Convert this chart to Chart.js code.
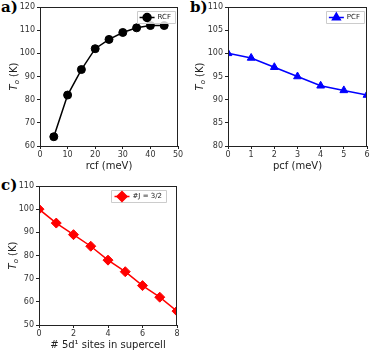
<!DOCTYPE html>
<html>
<head>
<meta charset="utf-8">
<script src="https://cdn.jsdelivr.net/npm/chart.js@4.4.0/dist/chart.umd.min.js"></script>
<style>
  body { margin: 0; background: #fff; width: 377px; height: 351px; position: relative; overflow: hidden; }
  canvas { position: absolute; }
  .tag { position: absolute; font: bold 15px "DejaVu Serif", serif; color: #000; }
</style>
</head>
<body>
<div class="tag" style="left:1px;top:-2px">a)</div>
<div class="tag" style="left:190px;top:-2px">b)</div>
<div class="tag" style="left:1px;top:176px">c)</div>
<canvas id="chartA" style="left:0;top:0" width="188" height="175"></canvas>
<canvas id="chartB" style="left:185px;top:0" width="192" height="175"></canvas>
<canvas id="chartC" style="left:0;top:170px" width="188" height="181"></canvas>
<script>
const rcf = [5, 10, 15, 20, 25, 30, 35, 40, 45];
const rcfT = [64, 82, 93, 102, 106, 109, 111, 112, 112];
const pcf = [0, 1, 2, 3, 4, 5, 6];
const pcfT = [100, 99, 97, 95, 93, 92, 91];
const sites = [0, 1, 2, 3, 4, 5, 6, 7, 8];
const sitesT = [100, 94, 89, 84, 78, 73, 67, 62, 56];

const tickFont = { family: "DejaVu Sans", size: 8 };
const tickColor = "#333";

// frame round the plot area, y label with italic T, and boxed legend
const mplPlugin = {
  id: "mpl",
  afterDraw(chart) {
    const ctx = chart.ctx;
    const a = chart.chartArea;
    const o = chart.options.plugins.mpl;
    ctx.save();
    ctx.strokeStyle = "#222";
    ctx.lineWidth = 1;
    ctx.strokeRect(Math.round(a.left) + 0.5, Math.round(a.top) + 0.5,
      Math.round(a.right - a.left) - 1, Math.round(a.bottom - a.top));

    // y label
    const cy = (a.top + a.bottom) / 2;
    ctx.translate(o.yLabelX, cy);
    ctx.rotate(-Math.PI / 2);
    ctx.fillStyle = "#222";
    ctx.textBaseline = "alphabetic";
    ctx.font = "italic 10px 'DejaVu Sans'";
    const wT = ctx.measureText("T").width;
    ctx.font = "italic 7px 'DejaVu Sans'";
    const wo = ctx.measureText("o").width;
    ctx.font = "10px 'DejaVu Sans'";
    const wK = ctx.measureText(" (K)").width;
    let x = -(wT + wo + wK) / 2;
    ctx.font = "italic 10px 'DejaVu Sans'";
    ctx.fillText("T", x, 4); x += wT;
    ctx.font = "italic 7px 'DejaVu Sans'";
    ctx.fillText("o", x, 6); x += wo;
    ctx.font = "10px 'DejaVu Sans'";
    ctx.fillText(" (K)", x, 4);
    ctx.restore();

    // legend
    const ds = chart.data.datasets[0];
    ctx.save();
    ctx.font = "7px 'DejaVu Sans'";
    const tw = ctx.measureText(ds.label).width;
    const lineLen = 15;
    const bw = 3 + lineLen + 3 + tw + 4;
    const bh = 12;
    const bx = a.right - o.legendGap - bw;
    const by = a.top + 4;
    ctx.fillStyle = "rgba(255,255,255,0.8)";
    ctx.strokeStyle = "#ccc";
    ctx.lineWidth = 1;
    ctx.beginPath();
    ctx.rect(Math.round(bx) + 0.5, Math.round(by) + 0.5, Math.round(bw), bh);
    ctx.fill();
    ctx.stroke();
    const ly = by + bh / 2 + 0.5;
    ctx.strokeStyle = ds.borderColor;
    ctx.lineWidth = ds.borderWidth;
    ctx.beginPath();
    ctx.moveTo(bx + 3, ly);
    ctx.lineTo(bx + 3 + lineLen, ly);
    ctx.stroke();
    ctx.fillStyle = ds.backgroundColor;
    Chart.helpers.drawPoint(ctx, {
      pointStyle: ds.pointStyle, radius: ds.pointRadius, rotation: 0, borderWidth: 1
    }, bx + 3 + lineLen / 2, ly);
    ctx.fillStyle = "#222";
    ctx.textBaseline = "middle";
    ctx.fillText(ds.label, bx + 3 + lineLen + 3, ly);
    ctx.restore();
  }
};

function makeChart(id, xs, ys, opts) {
  return new Chart(document.getElementById(id), {
    type: "line",
    data: {
      labels: xs,
      datasets: [{
        label: opts.label,
        data: xs.map((x, i) => ({ x: x, y: ys[i] })),
        borderColor: opts.color,
        backgroundColor: opts.color,
        borderWidth: 1.5,
        pointStyle: opts.marker,
        pointRadius: opts.radius,
        pointBorderWidth: 1,
        tension: 0
      }]
    },
    options: {
      responsive: false,
      animation: false,
      layout: { padding: opts.padding },
      plugins: {
        legend: { display: false },
        tooltip: { enabled: false },
        mpl: { yLabelX: opts.yLabelX, legendGap: opts.legendGap }
      },
      scales: {
        x: {
          type: "linear",
          min: opts.xMin, max: opts.xMax,
          afterFit: s => { s.height = opts.xH; },
          ticks: { stepSize: opts.xStep, font: tickFont, color: tickColor, padding: 1, maxRotation: 0 },
          grid: { drawOnChartArea: false, tickLength: 3, color: "#222" },
          border: { color: "#222" },
          title: { display: true, text: opts.xTitle, color: "#222",
            font: { family: "DejaVu Sans", size: 10 }, padding: { top: 1, bottom: 0 } }
        },
        y: {
          min: opts.yMin, max: opts.yMax,
          afterFit: s => { s.width = opts.yW; },
          ticks: { stepSize: opts.yStep, font: tickFont, color: tickColor, padding: 2 },
          grid: { drawOnChartArea: false, tickLength: 3, color: "#222" },
          border: { color: "#222" }
        }
      }
    },
    plugins: [mplPlugin]
  });
}

makeChart("chartA", rcf, rcfT, {
  label: "RCF", color: "#000", marker: "circle", radius: 4,
  xMin: 0, xMax: 50, xStep: 10, yMin: 60, yMax: 120, yStep: 10,
  xTitle: "rcf (meV)", padding: { left: 0, right: 10, top: 7, bottom: 3 },
  xH: 26, yW: 40, yLabelX: 13, legendGap: 3
});
makeChart("chartB", pcf, pcfT, {
  label: "PCF", color: "#0000ff", marker: "triangle", radius: 4.5,
  xMin: 0, xMax: 6, xStep: 1, yMin: 80, yMax: 110, yStep: 5,
  xTitle: "pcf (meV)", padding: { left: 0, right: 10, top: 7, bottom: 3 },
  xH: 26, yW: 43, yLabelX: 14, legendGap: 3
});
makeChart("chartC", sites, sitesT, {
  label: "#J = 3/2", color: "#ff0000", marker: "rectRot", radius: 5,
  xMin: 0, xMax: 8, xStep: 2, yMin: 50, yMax: 110, yStep: 10,
  xTitle: "# 5d\u00b9 sites in supercell", padding: { left: 0, right: 11, top: 16, bottom: 0 },
  xH: 26, yW: 39, yLabelX: 12, legendGap: 11
});
</script>
</body>
</html>
